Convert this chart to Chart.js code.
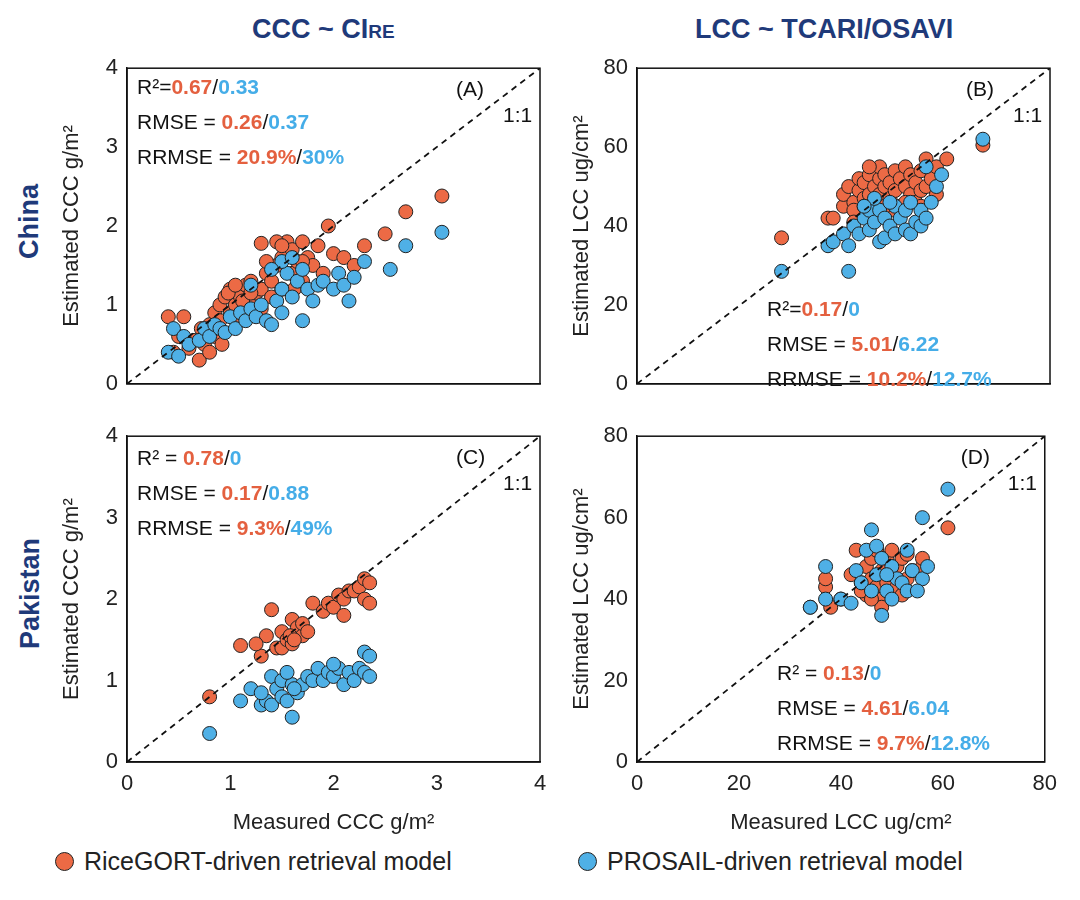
<!DOCTYPE html>
<html><head><meta charset="utf-8">
<script src="https://cdn.jsdelivr.net/npm/chart.js@4"></script>
<style>
body{margin:0;width:1080px;height:900px;background:#fff;position:relative;font-family:"Liberation Sans",Arial,sans-serif;overflow:hidden}
canvas{position:absolute}
.t{position:absolute;color:#1f3a7a;font-weight:bold;font-size:27px}
.row{position:absolute;color:#1f3a7a;font-weight:bold;font-size:27px;transform:rotate(-90deg);transform-origin:center}
.lg{position:absolute;top:847px;font-size:25px;color:#222;display:flex;align-items:center}
.dot{width:17px;height:17px;border-radius:50%;border:1.3px solid #222;margin-right:10px;display:inline-block}
</style></head><body>
<div class="t" style="left:252px;top:14px">CCC ~ CI<span style="font-size:19px">RE</span></div>
<div class="t" style="left:695px;top:14px">LCC ~ TCARI/OSAVI</div>
<div class="row" style="left:-8px;top:206px">China</div>
<div class="row" style="left:-25px;top:578px">Pakistan</div>
<div class="lg" style="left:55px"><span class="dot" style="background:#ec6a45"></span>RiceGORT-driven retrieval model</div>
<div class="lg" style="left:578px"><span class="dot" style="background:#4fb0e6"></span>PROSAIL-driven retrieval model</div>
<canvas id="cA" style="left:55px;top:52px" width="495" height="348"></canvas>
<canvas id="cB" style="left:565px;top:52px" width="495" height="348"></canvas>
<canvas id="cC" style="left:55px;top:420px" width="495" height="420"></canvas>
<canvas id="cD" style="left:565px;top:420px" width="495" height="420"></canvas>
<script>
const RED = "#ec6a45", BLUE = "#4fb0e6", TRED = "#e4603f", TBLUE = "#45ade8";

const ricegortA = [[0.4,0.85],[0.45,0.4],[0.5,0.6],[0.55,0.85],[0.6,0.45],[0.65,0.55],[0.7,0.3],[0.72,0.7],[0.75,0.5],[0.8,0.4],[0.8,0.75],[0.85,0.9],[0.85,0.6],[0.9,1.0],[0.9,0.8],[0.92,0.5],[0.95,1.1],[1.0,0.9],[1.0,1.2],[1.05,1.0],[1.1,1.1],[1.1,0.85],[1.15,1.25],[1.2,1.0],[1.2,1.3],[1.25,1.15],[1.3,1.2],[1.3,0.95],[1.35,1.4],[1.4,1.1],[1.4,1.3],[1.45,1.5],[1.5,1.2],[1.5,1.6],[1.55,1.8],[1.6,1.4],[1.6,1.7],[1.65,1.55],[1.7,1.8],[1.7,1.3],[1.75,1.6],[1.8,1.5],[1.85,1.75],[1.9,1.4],[1.95,2.0],[2.0,1.65],[2.1,1.6],[2.2,1.5],[2.3,1.75],[2.5,1.9],[2.7,2.18],[3.05,2.38],[1.3,1.78],[1.45,1.8],[1.12,1.05],[0.98,1.15],[1.2,1.15],[1.05,1.25],[1.35,1.55],[1.5,1.75],[1.62,1.2],[1.7,1.55]];
const prosailA = [[0.4,0.4],[0.45,0.7],[0.5,0.35],[0.55,0.6],[0.6,0.5],[0.7,0.55],[0.75,0.7],[0.8,0.6],[0.85,0.75],[0.9,0.7],[0.95,0.65],[1.0,0.85],[1.05,0.7],[1.1,0.9],[1.15,0.8],[1.2,0.95],[1.25,0.85],[1.3,1.0],[1.35,0.8],[1.4,0.75],[1.45,1.05],[1.5,0.9],[1.5,1.2],[1.55,1.4],[1.6,1.1],[1.65,1.3],[1.7,1.45],[1.7,0.8],[1.75,1.2],[1.8,1.05],[1.85,1.25],[1.9,1.3],[2.0,1.2],[2.05,1.4],[2.1,1.25],[2.15,1.05],[2.2,1.35],[2.3,1.55],[2.55,1.45],[2.7,1.75],[3.05,1.92],[1.5,1.55],[1.6,1.6],[1.4,1.45],[1.2,1.25]];
const ricegortB = [[28,37],[37,42],[38,42],[40,45],[40,48],[41,50],[42,46],[42,44],[43,49],[43,52],[44,47],[44,51],[45,48],[45,53],[46,50],[46,46],[47,52],[47,55],[47,48],[48,50],[48,53],[49,51],[49,47],[50,49],[50,54],[51,52],[51,45],[52,50],[52,55],[53,48],[53,53],[54,51],[54,46],[55,49],[55,54],[56,57],[56,50],[57,52],[58,48],[58,55],[60,57],[67,60.5],[44,45],[46,43],[50,44],[52,46],[48,45],[55,45],[42,41],[45,55]];
const prosailB = [[28,28.5],[37,35],[38,36],[40,38],[41,28.5],[41,35],[42,40],[43,38],[44,42],[45,39],[45,44],[46,41],[47,36],[47,44],[48,37],[48,42],[49,40],[50,38],[50,45],[51,42],[52,39],[52,44],[53,38],[54,41],[55,40],[55,44],[56,42],[56,55],[57,46],[58,50],[59,53],[67,62],[49,46],[53,46],[46,47],[44,45]];
const ricegortC = [[0.8,0.8],[1.1,1.43],[1.3,1.3],[1.35,1.55],[1.4,1.87],[1.45,1.4],[1.5,1.6],[1.5,1.4],[1.55,1.5],[1.6,1.75],[1.6,1.45],[1.65,1.65],[1.7,1.55],[1.7,1.7],[1.75,1.6],[1.8,1.95],[1.9,1.85],[1.95,1.95],[2.0,1.9],[2.05,2.05],[2.1,2.0],[2.15,2.1],[2.2,2.1],[2.25,2.15],[2.3,2.25],[2.3,2.0],[2.35,1.95],[2.35,2.2],[1.25,1.45],[1.58,1.55],[2.1,1.8],[1.62,1.5]];
const prosailC = [[0.8,0.35],[1.1,0.75],[1.2,0.9],[1.3,0.7],[1.35,0.75],[1.4,1.05],[1.4,0.7],[1.45,0.9],[1.5,0.8],[1.5,1.0],[1.55,0.75],[1.6,0.55],[1.6,0.95],[1.65,0.85],[1.7,0.95],[1.75,1.05],[1.8,1.0],[1.85,1.15],[1.9,1.0],[1.95,1.1],[2.0,1.05],[2.05,1.15],[2.1,0.95],[2.15,1.1],[2.2,1.0],[2.25,1.15],[2.3,1.35],[2.3,1.1],[2.35,1.05],[2.35,1.3],[1.3,0.85],[1.55,1.1],[1.62,0.9],[2.0,1.2]];
const ricegortD = [[34,38],[37,43],[37,45],[38,38],[40,40],[42,46],[43,52],[44,44],[45,48],[45,41],[46,50],[46,45],[47,52],[47,43],[48,47],[48,40],[49,50],[49,44],[50,46],[50,52],[51,43],[51,48],[52,50],[53,45],[53,51],[54,47],[56,48],[56,50],[61,57.5],[44,42],[48,38],[52,41],[46,40]];
const prosailD = [[34,38],[37,48],[37,40],[40,40],[42,39],[43,47],[44,44],[45,52],[46,57],[46,42],[47,53],[47,46],[48,36],[48,50],[49,42],[50,48],[50,40],[51,45],[52,44],[53,52],[53,42],[54,47],[56,45],[56,60],[57,48],[61,67],[55,42],[49,46]];

const statsA = [["R²=", "0.67", "0.33"], ["RMSE = ", "0.26", "0.37"], ["RRMSE = ", "20.9%", "30%"]];
const statsB = [["R²=", "0.17", "0"], ["RMSE = ", "5.01", "6.22"], ["RRMSE = ", "10.2%", "12.7%"]];
const statsC = [["R² = ", "0.78", "0"], ["RMSE = ", "0.17", "0.88"], ["RRMSE = ", "9.3%", "49%"]];
const statsD = [["R² = ", "0.13", "0"], ["RMSE = ", "4.61", "6.04"], ["RRMSE = ", "9.7%", "12.8%"]];

const FONT = "Liberation Sans, Arial, sans-serif";
const pts = a => a.map(p => ({x: p[0], y: p[1]}));

const decor = {
    id: "decor",
    afterDatasetsDraw(chart, args, o) {
        const {ctx, chartArea: a} = chart;
        ctx.save();
        ctx.strokeStyle = "#111"; ctx.lineWidth = 1.5;
        ctx.strokeRect(a.left, a.top, a.right - a.left, a.bottom - a.top);
        ctx.font = "21px " + FONT; ctx.textBaseline = "middle";
        ctx.fillStyle = "#111";
        ctx.fillText(o.tag, a.right - 84, a.top + 22);
        ctx.fillText("1:1", a.right - 37, a.top + 48);
        o.stats.forEach((s, i) => {
            let x = a.left + o.sx, y = a.top + o.sy + i * 35;
            const segs = [[s[0], "#111", false], [s[1], TRED, true], ["/", "#111", false], [s[2], TBLUE, true]];
            segs.forEach(([t, c, b]) => {
                ctx.font = (b ? "bold " : "") + "21px " + FONT;
                ctx.fillStyle = c; ctx.fillText(t, x, y);
                x += ctx.measureText(t).width;
            });
        });
        ctx.restore();
    }
};

function makeChart(id, red, blue, max, step, showX, xTitle, yTitle, tag, stats, sx, sy) {
    new Chart(document.getElementById(id), {
        type: "scatter",
        data: {datasets: [
            {type: "line", data: [{x: 0, y: 0}, {x: max, y: max}], borderColor: "#111", borderWidth: 1.8, borderDash: [6, 5], pointRadius: 0},
            {data: pts(blue), backgroundColor: BLUE, borderColor: "#222", borderWidth: 1, pointRadius: 7},
            {data: pts(red), backgroundColor: RED, borderColor: "#222", borderWidth: 1, pointRadius: 7},
        ]},
        options: {
            responsive: false, animation: false,
            layout: {padding: {top: 10, right: 10, left: 0, bottom: 0}},
            plugins: {legend: {display: false}, tooltip: {enabled: false},
                decor: {tag, stats, sx, sy}},
            scales: {
                x: {min: 0, max, ticks: {stepSize: step, display: showX, color: "#222", font: {size: 22, family: FONT}},
                    grid: {display: false, drawTicks: true, tickLength: 6, tickColor: "#111"}, border: {color: "#111", width: 1.5},
                    title: {display: showX, text: xTitle, color: "#222", font: {size: 22, family: FONT}, padding: {top: 2}},
                    afterFit: s => { s.height = showX ? 78 : 8; }},
                y: {min: 0, max, ticks: {stepSize: step, color: "#222", font: {size: 22, family: FONT}},
                    grid: {display: false, tickLength: 6, tickColor: "#111"}, border: {color: "#111", width: 1.5},
                    title: {display: true, text: yTitle, color: "#222", font: {size: 22, family: FONT}, padding: {bottom: 2}},
                    afterFit: s => { s.width = 72; }},
            },
        },
        plugins: [decor],
    });
}

makeChart("cA", ricegortA, prosailA, 4, 1, false, "", "Estimated CCC g/m²", "(A)", statsA, 10, 20);
makeChart("cB", ricegortB, prosailB, 80, 20, false, "", "Estimated LCC ug/cm²", "(B)", statsB, 130, 242);
makeChart("cC", ricegortC, prosailC, 4, 1, true, "Measured CCC g/m²", "Estimated CCC g/m²", "(C)", statsC, 10, 23);
makeChart("cD", ricegortD, prosailD, 80, 20, true, "Measured LCC ug/cm²", "Estimated LCC ug/cm²", "(D)", statsD, 140, 238);
</script>
</body></html>
